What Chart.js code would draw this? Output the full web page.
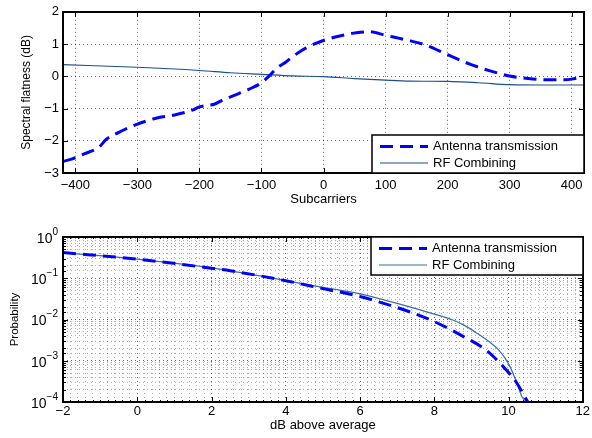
<!DOCTYPE html>
<html>
<head>
<meta charset="utf-8">
<title>Spectral flatness and CCDF</title>
<script src="https://cdn.jsdelivr.net/npm/chart.js@4.4.0/dist/chart.umd.min.js"></script>
<style>
  body { margin: 0; background: #fff; }
  #wrap { position: relative; width: 592px; height: 438px; }
  canvas { position: absolute; left: 0; }
  #top { top: 0; }
  #bottom { top: 215px; }
</style>
</head>
<body>
<div id="wrap">
  <canvas id="top" width="592" height="215"></canvas>
  <canvas id="bottom" width="592" height="223"></canvas>
</div>
<script>
// ---- top panel: spectral flatness over subcarriers ----
var flatAntX = [-420, -405, -385, -362, -350, -330, -302, -270, -240, -210, -200, -175, -165, -145, -120, -100, -85, -76, -60, -49, -28, 0, 26, 53, 74, 100, 133, 163, 200, 237, 270, 300, 330, 362, 389, 405, 420];
var flatAntY = [-2.64, -2.56, -2.4, -2.2, -1.95, -1.74, -1.5, -1.3, -1.2, -1.04, -0.95, -0.86, -0.76, -0.6, -0.4, -0.2, 0.06, 0.24, 0.45, 0.62, 0.88, 1.11, 1.25, 1.35, 1.38, 1.27, 1.13, 0.98, 0.67, 0.37, 0.16, 0.01, -0.07, -0.11, -0.11, -0.07, -0.01];
var flatRfX = [-420, -300, -200, -150, -100, -50, 0, 50, 100, 140, 200, 250, 300, 350, 420];
var flatRfY = [0.36, 0.28, 0.18, 0.11, 0.06, 0.01, -0.01, -0.07, -0.12, -0.15, -0.16, -0.2, -0.26, -0.27, -0.27];
var subcarrierTicks = [-400, -300, -200, -100, 0, 100, 200, 300, 400];
var flatTicks = [-3, -2, -1, 0, 1, 2];

// ---- bottom panel: probability that power exceeds average ----
var ccdfAntX = [-2, 0, 2, 2.5, 4, 5, 6, 7, 7.2, 8, 8.8, 9.4, 9.87, 10.2, 10.52];
var ccdfAntY = [0.42, 0.29, 0.175, 0.152, 0.087, 0.056, 0.036, 0.0195, 0.017, 0.0089, 0.0038, 0.0018, 0.0007, 0.00031, 0.0001];
var ccdfRfX = [-2, 0, 2, 4, 5, 6, 7, 8, 8.5, 8.8, 9.16, 9.5, 9.74, 10, 10.2, 10.37, 10.5];
var ccdfRfY = [0.42, 0.29, 0.178, 0.088, 0.06, 0.042, 0.0245, 0.0135, 0.0097, 0.0073, 0.0046, 0.0028, 0.0018, 0.00085, 0.00033, 0.00013, 0.0001];
var dbTicks = [-2, 0, 2, 4, 6, 8, 10, 12];
var probExp = [0, -1, -2, -3, -4];

var names = ['Antenna transmission', 'RF Combining'];

var FONT = '"Liberation Sans", Arial, Helvetica, sans-serif';
Chart.defaults.font.family = FONT;
Chart.defaults.color = '#000';

function pts(xs, ys) {
  return xs.map(function(x, i) { return { x: x, y: ys[i] }; });
}
function minus(v) { return String(v).replace('-', '\u2212'); }

// minor steps of 0.2 between the labelled dB ticks
var dbMinor = [];
for (var i = 0; i < dbTicks.length - 1; i++) {
  for (var k = 0; k < 10; k++) dbMinor.push(+(dbTicks[i] + k * (dbTicks[i + 1] - dbTicks[i]) / 10).toFixed(2));
}
dbMinor.push(dbTicks[dbTicks.length - 1]);

function isDbMajor(v) { return dbTicks.indexOf(v) != -1; }
function isDecade(v) { var e = Math.log10(v); return Math.abs(e - Math.round(e)) < 1e-6; }

// box, inward tick marks, legend (and 10^n labels for the log axis)
var frame = {
  id: 'frame',
  afterDraw: function(chart, args, opts) {
    var ctx = chart.ctx, a = chart.chartArea, sx = chart.scales.x, sy = chart.scales.y;
    ctx.save();
    ctx.strokeStyle = '#000';
    ctx.lineWidth = 1;
    ctx.setLineDash([]);
    ctx.beginPath();
    sx.ticks.forEach(function(t) {
      var px = Math.round(sx.getPixelForValue(t.value)) + 0.5;
      var len = opts.minorX && !isDbMajor(t.value) ? 2 : 5;
      ctx.moveTo(px, a.bottom); ctx.lineTo(px, a.bottom - len);
      ctx.moveTo(px, a.top); ctx.lineTo(px, a.top + len);
    });
    sy.ticks.forEach(function(t) {
      var py = Math.round(sy.getPixelForValue(t.value)) + 0.5;
      var len = opts.logY && !isDecade(t.value) ? 3 : 5;
      ctx.moveTo(a.left, py); ctx.lineTo(a.left + len, py);
      ctx.moveTo(a.right, py); ctx.lineTo(a.right - len, py);
    });
    ctx.stroke();
    ctx.lineWidth = 2;
    ctx.strokeRect(Math.round(a.left), Math.round(a.top), Math.round(a.right - a.left), Math.round(a.bottom - a.top));

    if (opts.logY) {
      ctx.fillStyle = '#000';
      ctx.textBaseline = 'middle';
      probExp.forEach(function(e) {
        var py = sy.getPixelForValue(Math.pow(10, e));
        var right = a.left - 5;
        var ex = minus(e);
        ctx.font = '10px ' + FONT;
        var ew = ctx.measureText(ex).width;
        ctx.textAlign = 'left';
        ctx.fillText(ex, right - ew, py - 5);
        ctx.font = '14px ' + FONT;
        ctx.textAlign = 'right';
        ctx.fillText('10', right - ew, py + 2);
      });
      ctx.textAlign = 'left';
    }

    // legend box
    var w = 212, h = 38;
    var x0 = Math.round(a.right) - w;
    var y0 = opts.legendTop ? Math.round(a.top) : Math.round(a.bottom) - h;
    ctx.fillStyle = '#fff';
    ctx.fillRect(x0, y0, w, h);
    ctx.lineWidth = 1.5;
    ctx.strokeRect(x0, y0, w, h);
    ctx.font = '13px ' + FONT;
    ctx.textBaseline = 'middle';
    chart.data.datasets.forEach(function(ds, j) {
      var yy = y0 + 11.5 + j * 16.5;
      ctx.strokeStyle = ds.borderColor;
      ctx.lineWidth = ds.borderWidth;
      ctx.setLineDash(ds.borderDash || []);
      ctx.beginPath();
      ctx.moveTo(x0 + 8, yy); ctx.lineTo(x0 + 56, yy);
      ctx.stroke();
      ctx.setLineDash([]);
      ctx.fillStyle = '#000';
      ctx.fillText(ds.label, x0 + 61, yy);
    });
    ctx.restore();
  }
};

var dotted = { display: false, dash: [1, 3] };

new Chart(document.getElementById('top'), {
  type: 'line',
  data: {
    datasets: [{
      label: names[0],
      data: pts(flatAntX, flatAntY),
      borderColor: '#0000ff',
      borderWidth: 3,
      borderDash: [13, 7],
      pointRadius: 0,
      cubicInterpolationMode: 'monotone'
    }, {
      label: names[1],
      data: pts(flatRfX, flatRfY),
      borderColor: '#1d4f8a',
      borderWidth: 1.2,
      pointRadius: 0,
      cubicInterpolationMode: 'monotone'
    }]
  },
  options: {
    responsive: false,
    animation: false,
    layout: { padding: { left: 0, right: 8, top: 10, bottom: 0 } },
    plugins: { legend: { display: false }, tooltip: { enabled: false }, frame: { legendTop: false } },
    scales: {
      x: {
        type: 'linear', min: -420, max: 420,
        afterBuildTicks: function(s) { s.ticks = subcarrierTicks.map(function(v) { return { value: v }; }); },
        afterFit: function(s) { s.height = 42; },
        ticks: { autoSkip: false, maxRotation: 0, padding: 5, font: { size: 13 }, callback: function(v) { return minus(v); } },
        grid: { drawTicks: false, color: 'rgba(0,0,0,0.6)' },
        border: dotted,
        title: { display: true, text: 'Subcarriers', font: { size: 13 }, padding: { top: 0, bottom: 8 } }
      },
      y: {
        min: -3, max: 2,
        afterBuildTicks: function(s) { s.ticks = flatTicks.map(function(v) { return { value: v }; }); },
        afterFit: function(s) { s.width = 63; },
        ticks: { padding: 4, font: { size: 13 }, callback: function(v) { return minus(v); } },
        grid: { drawTicks: false, color: 'rgba(0,0,0,0.6)' },
        border: dotted,
        title: { display: true, text: 'Spectral flatness (dB)', font: { size: 12 }, padding: { top: 19, bottom: 0 } }
      }
    }
  },
  plugins: [frame]
});

new Chart(document.getElementById('bottom'), {
  type: 'line',
  data: {
    datasets: [{
      label: names[0],
      data: pts(ccdfAntX, ccdfAntY),
      borderColor: '#0000ff',
      borderWidth: 3,
      borderDash: [13, 7],
      pointRadius: 0,
      cubicInterpolationMode: 'monotone'
    }, {
      label: names[1],
      data: pts(ccdfRfX, ccdfRfY),
      borderColor: '#3a6da6',
      borderWidth: 1.2,
      pointRadius: 0,
      cubicInterpolationMode: 'monotone'
    }]
  },
  options: {
    responsive: false,
    animation: false,
    layout: { padding: { left: 0, right: 8, top: 22, bottom: 0 } },
    plugins: { legend: { display: false }, tooltip: { enabled: false }, frame: { legendTop: true, minorX: true, logY: true } },
    scales: {
      x: {
        type: 'linear', min: -2, max: 12,
        afterBuildTicks: function(s) { s.ticks = dbMinor.map(function(v) { return { value: v }; }); },
        afterFit: function(s) { s.height = 36; },
        ticks: { autoSkip: false, maxRotation: 0, padding: 2, font: { size: 13 },
          callback: function(v) { return isDbMajor(v) ? minus(v) : ''; } },
        grid: { drawTicks: false, color: function(c) { return isDbMajor(c.tick.value) ? 'rgba(0,0,0,0.6)' : 'rgba(0,0,0,0.32)'; } },
        border: { display: false, dash: [1, 3] },
        title: { display: true, text: 'dB above average', font: { size: 13 }, padding: { top: 0, bottom: 5 } }
      },
      y: {
        type: 'logarithmic', min: 1e-4, max: 1,
        afterFit: function(s) { s.width = 63; },
        ticks: { autoSkip: false, padding: 4, callback: function() { return ''; } },
        grid: { drawTicks: false, color: function(c) { return isDecade(c.tick.value) ? 'rgba(0,0,0,0.6)' : 'rgba(0,0,0,0.32)'; } },
        border: { display: false, dash: [1, 3] },
        title: { display: true, text: 'Probability', font: { size: 11.5 }, padding: { top: 8, bottom: 0 } }
      }
    }
  },
  plugins: [frame]
});
</script>
</body>
</html>
